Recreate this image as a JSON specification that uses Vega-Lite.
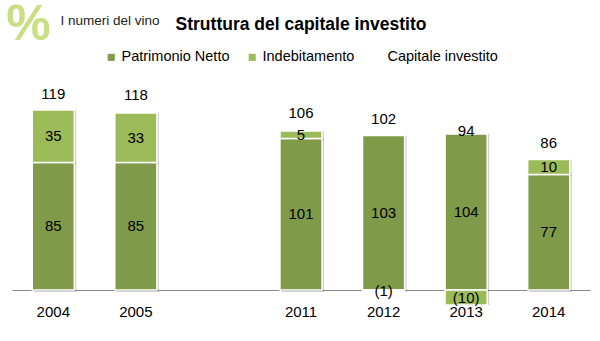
{
  "$schema": "https://vega.github.io/schema/vega-lite/v6.json",
  "autosize": {"type": "none"},
  "width": 578,
  "height": 195,
  "padding": {"left": 12, "top": 95, "right": 10, "bottom": 51},
  "background": "white",
  "config": {"view": {"stroke": null}, "font": "Liberation Sans"},
  "title": {
    "text": "Struttura del capitale investito",
    "font": "Liberation Sans",
    "fontSize": 17.5,
    "fontWeight": "bold",
    "color": "black",
    "anchor": "middle",
    "dy": 38
  },
  "datasets": {
    "parts": [
      {"year": "2004", "series": "Patrimonio Netto", "ord": 1, "value": 85},
      {"year": "2004", "series": "Indebitamento", "ord": 2, "value": 35},
      {"year": "2005", "series": "Patrimonio Netto", "ord": 1, "value": 85},
      {"year": "2005", "series": "Indebitamento", "ord": 2, "value": 33},
      {"year": "2011", "series": "Patrimonio Netto", "ord": 1, "value": 101},
      {"year": "2011", "series": "Indebitamento", "ord": 2, "value": 5},
      {"year": "2012", "series": "Patrimonio Netto", "ord": 1, "value": 103},
      {"year": "2012", "series": "Indebitamento", "ord": 2, "value": -1},
      {"year": "2013", "series": "Patrimonio Netto", "ord": 1, "value": 104},
      {"year": "2013", "series": "Indebitamento", "ord": 2, "value": -10},
      {"year": "2014", "series": "Patrimonio Netto", "ord": 1, "value": 77},
      {"year": "2014", "series": "Indebitamento", "ord": 2, "value": 10}
    ],
    "totals": [
      {"year": "2004", "total": 119},
      {"year": "2005", "total": 118},
      {"year": "2011", "total": 106},
      {"year": "2012", "total": 102},
      {"year": "2013", "total": 94},
      {"year": "2014", "total": 86}
    ]
  },
  "encoding": {
    "x": {
      "field": "year",
      "type": "nominal",
      "scale": {"domain": ["2004", "2005", " ", "2011", "2012", "2013", "2014"], "paddingInner": 0.49, "paddingOuter": 0.245},
      "axis": {
        "labelAngle": 0,
        "labelFontSize": 15,
        "labelFont": "Liberation Sans",
        "labelColor": "black",
        "labelPadding": 14,
        "ticks": false,
        "domain": true,
        "domainColor": "#8a8a8a",
        "domainWidth": 1,
        "grid": false,
        "title": "%",
        "titleFont": "Liberation Sans",
        "titleFontSize": 50,
        "titleFontWeight": "bold",
        "titleColor": "#c9df82",
        "titleAngle": 0,
        "titleAlign": "center",
        "titleBaseline": "middle",
        "titleX": 16,
        "titleY": -266
      }
    }
  },
  "layer": [
    {
      "data": {"name": "parts"},
      "transform": [{"stack": "value", "groupby": ["year"], "sort": [{"field": "ord", "order": "ascending"}], "as": ["v0", "v1"]}],
      "mark": {"type": "bar", "color": "#000000", "opacity": 0.18, "xOffset": 2, "yOffset": 2},
      "encoding": {
        "y": {
          "field": "v0",
          "type": "quantitative",
          "scale": {"domain": [0, 130]},
          "axis": {
            "title": "I numeri del vino",
            "titleAngle": 0,
            "titleAlign": "left",
            "titleBaseline": "alphabetic",
            "titleX": 48,
            "titleY": -71,
            "titleFont": "Liberation Sans",
            "titleFontSize": 13.5,
            "titleFontWeight": "normal",
            "titleColor": "#222222",
            "domain": false,
            "ticks": false,
            "labels": false,
            "grid": false
          }
        },
        "y2": {"field": "v1"}
      }
    },
    {
      "data": {"name": "parts"},
      "transform": [{"stack": "value", "groupby": ["year"], "sort": [{"field": "ord", "order": "ascending"}], "as": ["v0", "v1"]}],
      "mark": {"type": "bar", "stroke": "white", "strokeWidth": 1.5},
      "encoding": {
        "y": {"field": "v0", "type": "quantitative", "title": "I numeri del vino"},
        "y2": {"field": "v1"},
        "color": {
          "field": "series",
          "type": "nominal",
          "scale": {"domain": ["Patrimonio Netto", "Indebitamento", "Capitale investito"], "range": ["#7F9A48", "#9BBB59", "transparent"]},
          "legend": {
            "orient": "none",
            "legendX": 92,
            "legendY": -45,
            "direction": "horizontal",
            "title": null,
            "symbolType": "square",
            "symbolSize": 50,
            "symbolStrokeWidth": 0,
            "labelFontSize": 14.5,
            "labelFont": "Liberation Sans",
            "labelColor": "black",
            "labelOffset": 3,
            "columnPadding": 15,
            "padding": 0
          }
        }
      }
    },
    {
      "data": {"name": "parts"},
      "transform": [
        {"stack": "value", "groupby": ["year"], "sort": [{"field": "ord", "order": "ascending"}], "as": ["v0", "v1"]},
        {"calculate": "(datum.v0 + datum.v1) / 2", "as": "mid"}
      ],
      "mark": {"type": "text", "fontSize": 15, "color": "black", "baseline": "middle"},
      "encoding": {
        "y": {"field": "mid", "type": "quantitative", "title": "I numeri del vino"},
        "text": {"field": "value", "type": "quantitative", "format": "(.0f"}
      }
    },
    {
      "data": {"name": "totals"},
      "mark": {"type": "text", "fontSize": 15, "color": "black", "baseline": "middle", "dy": -18},
      "encoding": {
        "y": {"field": "total", "type": "quantitative", "title": "I numeri del vino"},
        "text": {"field": "total", "type": "quantitative"}
      }
    }
  ]
}
